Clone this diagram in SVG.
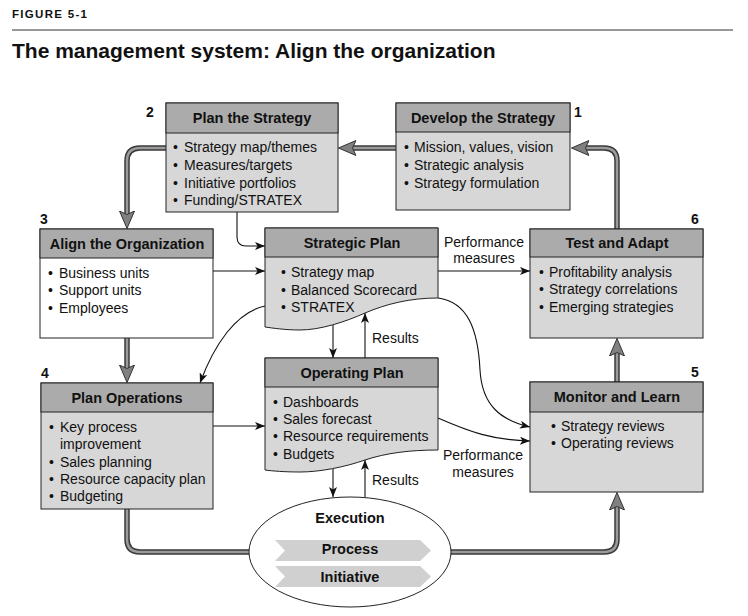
<svg xmlns="http://www.w3.org/2000/svg" width="748" height="616" viewBox="0 0 748 616">
<defs>
<style>
text{font-family:"Liberation Sans",Arial,sans-serif;fill:#111}
.fig{font-size:11.5px;font-weight:bold;letter-spacing:1.3px}
.ttl{font-size:21px;font-weight:bold}
.hd{font-size:14.5px;font-weight:bold;text-anchor:middle}
.it{font-size:14px}
.num{font-size:14px;font-weight:bold}
.lbl{font-size:14px}
.mid{text-anchor:middle}
.ex{font-size:14.5px;font-weight:bold;text-anchor:middle}
.body{fill:#d7d7d7;stroke:#222;stroke-width:1}
.white{fill:#fff;stroke:#222;stroke-width:1}
.head{fill:#ababab;stroke:#222;stroke-width:1}
.thin{fill:none;stroke:#111;stroke-width:1.1;marker-end:url(#ta)}
.tko{fill:none;stroke:#3a3a3a;stroke-width:5.5}
.tki{fill:none;stroke:#9b9b9b;stroke-width:2.5}
.tkh{fill:none;stroke:none;marker-end:url(#TA)}
.band{fill:#d0d0d0}
</style>
<marker id="ta" viewBox="0 0 10 8" refX="10" refY="4" markerWidth="10" markerHeight="8" markerUnits="userSpaceOnUse" orient="auto">
<path d="M0,0 L10,4 L0,8 L2.5,4 Z" fill="#111"/>
</marker>
<marker id="TA" viewBox="0 0 18 16" refX="7" refY="8" markerWidth="18" markerHeight="16" markerUnits="userSpaceOnUse" orient="auto">
<path d="M0,0.5 L17.5,8 L0,15.5 L3.5,8 Z" fill="#808080" stroke="#333" stroke-width="1"/>
</marker>
</defs>
<rect width="748" height="616" fill="#fff"/>

<text class="fig" x="12" y="18">FIGURE 5-1</text>
<line x1="12" y1="30" x2="733" y2="30" stroke="#333" stroke-width="1.2"/>
<text class="ttl" x="12" y="58">The management system: Align the organization</text>

<g id="connectors">
<path class="tko" d="M396,148 H349"/><path class="tki" d="M396,148 H349"/><path class="tkh" d="M396,148 H349"/>
<path class="tko" d="M617,229 V161 Q617,148 604,148 H582"/><path class="tki" d="M617,229 V161 Q617,148 604,148 H582"/><path class="tkh" d="M617,229 V161 Q617,148 604,148 H582"/>
<path class="tko" d="M166,148 H140 Q127,148 127,161 V218"/><path class="tki" d="M166,148 H140 Q127,148 127,161 V218"/><path class="tkh" d="M166,148 H140 Q127,148 127,161 V218"/>
<path class="tko" d="M127,338 V372"/><path class="tki" d="M127,338 V372"/><path class="tkh" d="M127,338 V372"/>
<path class="tko" d="M617,382 V349"/><path class="tki" d="M617,382 V349"/><path class="tkh" d="M617,382 V349"/>
<path class="tko" d="M127,509 V539 Q127,552 140,552 H249"/><path class="tki" d="M127,509 V539 Q127,552 140,552 H249"/>
<path class="tko" d="M451,552 H604 Q617,552 617,539 V503"/><path class="tki" d="M451,552 H604 Q617,552 617,539 V503"/><path class="tkh" d="M451,552 H604 Q617,552 617,539 V503"/>
<path class="thin" d="M237,212 V237 Q237,246 246,246 H265"/>
<path class="thin" d="M213,271 H265"/>
<path class="thin" d="M438,271 H530"/>
<path class="thin" d="M265,306 C236,312 214,345 200,383"/>
<path class="thin" d="M438,298 C468,302 478,330 480,370 C482,405 500,420 530,427"/>
<path class="thin" d="M438,418 C470,432 492,440 530,441"/>
<path class="thin" d="M333,325 V358"/>
<path class="thin" d="M365,358 V313"/>
<path class="thin" d="M213,426 H265"/>
<path class="thin" d="M333,469 V497"/>
<path class="thin" d="M365,497 V460"/>
<text class="lbl mid" x="484" y="247">Performance</text>
<text class="lbl mid" x="484" y="263">measures</text>
<text class="lbl mid" x="483" y="460">Performance</text>
<text class="lbl mid" x="483" y="477">measures</text>
<text class="lbl" x="372" y="343">Results</text>
<text class="lbl" x="372" y="485">Results</text>
</g>

<g id="develop">
<rect class="body" x="396" y="103" width="174" height="107"/>
<rect class="head" x="396" y="103" width="174" height="29"/>
<text class="hd" x="483" y="123">Develop the Strategy</text>
<text class="it" y="152"><tspan x="404">•</tspan><tspan x="414">Mission, values, vision</tspan></text>
<text class="it" y="170"><tspan x="404">•</tspan><tspan x="414">Strategic analysis</tspan></text>
<text class="it" y="188"><tspan x="404">•</tspan><tspan x="414">Strategy formulation</tspan></text>
<text class="num" x="574" y="117">1</text>
</g>

<g id="plan-strategy">
<rect class="body" x="166" y="103" width="172" height="109"/>
<rect class="head" x="166" y="103" width="172" height="30"/>
<text class="hd" x="252" y="123">Plan the Strategy</text>
<text class="it" y="152"><tspan x="173">•</tspan><tspan x="184">Strategy map/themes</tspan></text>
<text class="it" y="170"><tspan x="173">•</tspan><tspan x="184">Measures/targets</tspan></text>
<text class="it" y="188"><tspan x="173">•</tspan><tspan x="184">Initiative portfolios</tspan></text>
<text class="it" y="205"><tspan x="173">•</tspan><tspan x="184">Funding/STRATEX</tspan></text>
<text class="num" x="146" y="117">2</text>
</g>

<g id="align">
<rect class="white" x="40" y="229" width="173" height="109"/>
<rect class="head" x="40" y="229" width="173" height="29"/>
<text class="hd" x="127" y="249">Align the Organization</text>
<text class="it" y="278"><tspan x="48">•</tspan><tspan x="59">Business units</tspan></text>
<text class="it" y="295"><tspan x="48">•</tspan><tspan x="59">Support units</tspan></text>
<text class="it" y="313"><tspan x="48">•</tspan><tspan x="59">Employees</tspan></text>
<text class="num" x="40" y="224">3</text>
</g>

<g id="strategic-plan">
<path class="body" d="M265,228 H438 V298 C410,298 386,304 365,313 C345,322 320,330 300,330 C285,330 272,328 265,327 Z"/>
<rect class="head" x="265" y="228" width="173" height="29"/>
<text class="hd" x="352" y="248">Strategic Plan</text>
<text class="it" y="277"><tspan x="281">•</tspan><tspan x="291">Strategy map</tspan></text>
<text class="it" y="295"><tspan x="281">•</tspan><tspan x="291">Balanced Scorecard</tspan></text>
<text class="it" y="312"><tspan x="281">•</tspan><tspan x="291">STRATEX</tspan></text>
</g>

<g id="test-adapt">
<rect class="body" x="530" y="229" width="173" height="109"/>
<rect class="head" x="530" y="229" width="173" height="28"/>
<text class="hd" x="617" y="248">Test and Adapt</text>
<text class="it" y="277"><tspan x="539">•</tspan><tspan x="549">Profitability analysis</tspan></text>
<text class="it" y="294"><tspan x="539">•</tspan><tspan x="549">Strategy correlations</tspan></text>
<text class="it" y="312"><tspan x="539">•</tspan><tspan x="549">Emerging strategies</tspan></text>
<text class="num" x="691" y="224">6</text>
</g>

<g id="plan-operations">
<rect class="body" x="41" y="383" width="172" height="126"/>
<rect class="head" x="41" y="383" width="172" height="29"/>
<text class="hd" x="127" y="403">Plan Operations</text>
<text class="it" y="432"><tspan x="49">•</tspan><tspan x="60">Key process</tspan></text>
<text class="it" y="449"><tspan x="60">improvement</tspan></text>
<text class="it" y="467"><tspan x="49">•</tspan><tspan x="60">Sales planning</tspan></text>
<text class="it" y="484"><tspan x="49">•</tspan><tspan x="60">Resource capacity plan</tspan></text>
<text class="it" y="501"><tspan x="49">•</tspan><tspan x="60">Budgeting</tspan></text>
<text class="num" x="41" y="378">4</text>
</g>

<g id="operating-plan">
<path class="body" d="M265,358 H438 V450 C410,450 386,453 365,460 C345,467 320,472 300,472 C285,472 272,471 265,470 Z"/>
<rect class="head" x="265" y="358" width="173" height="29"/>
<text class="hd" x="352" y="378">Operating Plan</text>
<text class="it" y="407"><tspan x="273">•</tspan><tspan x="283">Dashboards</tspan></text>
<text class="it" y="424"><tspan x="273">•</tspan><tspan x="283">Sales forecast</tspan></text>
<text class="it" y="441"><tspan x="273">•</tspan><tspan x="283">Resource requirements</tspan></text>
<text class="it" y="459"><tspan x="273">•</tspan><tspan x="283">Budgets</tspan></text>
</g>

<g id="monitor-learn">
<rect class="body" x="530" y="382" width="173" height="110"/>
<rect class="head" x="530" y="382" width="173" height="30"/>
<text class="hd" x="617" y="402">Monitor and Learn</text>
<text class="it" y="431"><tspan x="551">•</tspan><tspan x="561">Strategy reviews</tspan></text>
<text class="it" y="448"><tspan x="551">•</tspan><tspan x="561">Operating reviews</tspan></text>
<text class="num" x="691" y="377">5</text>
</g>

<g id="execution">
<ellipse cx="350" cy="552" rx="101" ry="55" fill="#fff" stroke="#222" stroke-width="1"/>
<path class="band" d="M275,540 H420 L431,550.5 L420,561 H275 L285,550.5 Z"/>
<path class="band" d="M275,566 H420 L431,576.5 L420,587 H275 L285,576.5 Z"/>
<text class="ex" x="350" y="523">Execution</text>
<text class="ex" x="350" y="554">Process</text>
<text class="ex" x="350" y="582">Initiative</text>
</g>
</svg>
